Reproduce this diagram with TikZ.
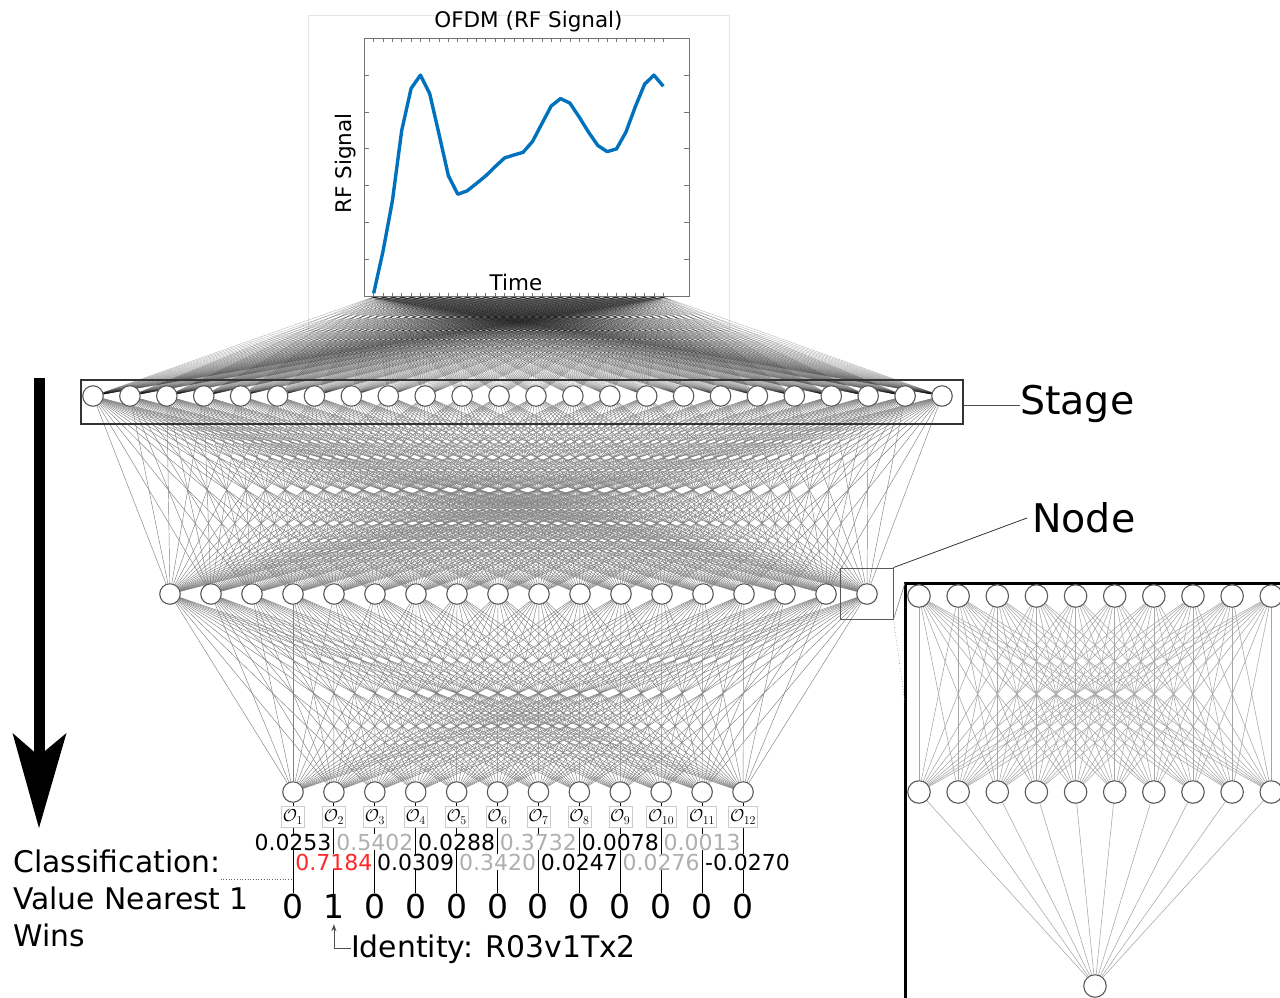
\documentclass[tikz,border=0pt]{standalone}
\usepackage{fontspec}
\setmainfont{DejaVu Sans}
\usetikzlibrary{backgrounds,arrows.meta}
\definecolor{plotblue}{RGB}{0,114,189}
\definecolor{valgray}{RGB}{175,175,175}
\definecolor{valred}{RGB}{255,40,40}
\begin{document}
\begin{tikzpicture}[x=1pt,y=-1pt,
  neuron/.style={circle,draw=black!65,fill=white,line width=1.1pt,minimum size=20.5pt,inner sep=0pt},
  ineuron/.style={neuron,minimum size=22.5pt},
  fanline/.style={black,line width=0.35pt,opacity=0.32},
  wline/.style={black!50,line width=0.45pt},
  iline/.style={black!35,line width=0.55pt},
  vline/.style={black,line width=0.9pt},
  olab/.style={draw=black!20,fill=white,inner sep=1.5pt,minimum width=20pt,minimum height=21pt,font=\fontsize{16.5}{16.5}\selectfont},
  valtxt/.style={font=\fontsize{22}{22}\selectfont,inner sep=0pt,fill=white,anchor=base},
  digit/.style={font=\fontsize{33}{33}\selectfont,inner sep=0pt,anchor=base},
  bigtxt/.style={font=\fontsize{29.8}{29.8}\selectfont,inner sep=0pt,anchor=base west},
  lbltxt/.style={font=\fontsize{39.5}{39.5}\selectfont,inner sep=0pt,anchor=base west},
  axtxt/.style={font=\fontsize{21.5}{21.5}\selectfont,inner sep=0pt,anchor=base},
  axtick/.style={black!55,line width=0.6pt}
]
\useasboundingbox (0,0) rectangle (1280,997);

% ---- signal plot ----
\node[axtxt] (title) at (528.5,27.5) {OFDM (RF Signal)};
\draw[black!55,line width=0.8pt,fill=white] (364,38.3) rectangle (689.3,296.5);
\foreach \k in {0,...,31}{
  \pgfmathsetmacro\xx{373.7+9.34*\k}
  \draw[axtick] (\xx,296.5) -- (\xx,292.5) (\xx,38.3) -- (\xx,42.3);
  \coordinate (p\k) at (\xx,297);
}
\foreach \yy in {75.1,111.9,148.7,185.5,222.3,259.1}
  \draw[axtick] (364,\yy) -- (369,\yy) (689.3,\yy) -- (684.3,\yy);
\draw[plotblue,line width=3.4pt,line join=round] plot coordinates {
 (373.7,293.2) (383.0,251.3) (392.4,200.9) (401.7,130.5) (411.1,88.5)
 (420.4,75.1) (429.7,93.6) (439.1,134.5) (448.4,175.8) (457.8,194.2)
 (467.1,190.9) (476.4,183.5) (485.8,175.8) (495.1,166.7) (504.5,158.0)
 (513.8,155.0) (523.1,152.3) (532.5,141.5) (541.8,123.8) (551.2,106.0)
 (560.5,98.6) (569.8,103.0) (579.2,117.0) (588.5,132.1) (597.9,145.6)
 (607.2,151.6) (616.5,148.9) (625.9,132.1) (635.2,107.0) (644.6,84.2)
 (653.9,75.1) (663.3,86.2)};
\node[axtxt,rotate=90] (ylab) at (351.5,163.5) {RF Signal};
\node[axtxt] (xlab) at (516,290.5) {Time};

% ---- network layers ----
\foreach \i in {1,...,24}{
  \pgfmathsetmacro\xx{93+36.913*(\i-1)}
  \node[neuron] (s\i) at (\xx,396) {};
}
\foreach \i in {1,...,18}{
  \pgfmathsetmacro\xx{170+41*(\i-1)}
  \node[neuron] (h\i) at (\xx,594) {};
}
\foreach \i/\v in {1/0,2/1,3/0,4/0,5/0,6/0,7/0,8/0,9/0,10/0,11/0,12/0}{
  \pgfmathsetmacro\xx{293+40.91*(\i-1)}
  \node[neuron] (o\i) at (\xx,792) {};
  \node[olab] (ol\i) at (\xx,817) {$\mathcal{O}_{\i}$};
  \node[digit] (d\i) at (\xx,918) {\v};
}

% ---- output values ----
\foreach \i/\v/\c in {1/0.0253/black,3/0.5402/valgray,5/0.0288/black,
                      7/0.3732/valgray,9/0.0078/black,11/0.0013/valgray}{
  \pgfmathsetmacro\xx{293+40.91*(\i-1)}
  \node[valtxt,text=\c] (v\i) at (\xx,850) {\v};
}
\foreach \i/\v/\c/\dx in {2/0.7184/valred/0,4/0.0309/black/0,6/0.3420/valgray/0,
                          8/0.0247/black/0,10/0.0276/valgray/0,12/-0.0270/black/4.5}{
  \pgfmathsetmacro\xx{293+40.91*(\i-1)+\dx}
  \node[valtxt,text=\c] (v\i) at (\xx,870) {\v};
}

% ---- stage and node labels ----
\node[draw=black!80,line width=1.2pt,minimum width=882pt,minimum height=44pt,inner sep=0pt] (stagebox) at (522,402) {};
\node[lbltxt] (stagelbl) at (1020,414.5) {Stage};
\coordinate (stagetap) at (963,405.5);
\draw[black!70,line width=0.8pt] (stagetap) -- (stagetap -| stagelbl.west);

\node[draw=black!65,line width=0.9pt,minimum width=53pt,minimum height=51pt,inner sep=0pt] (zbox) at (866.5,593.5) {};
\node[lbltxt] (nodelbl) at (1032,532.7) {Node};
\draw[black!80,line width=0.8pt] (zbox.north east) -- ([xshift=-5pt]nodelbl.west);

% ---- enlarged node ----
\coordinate (icorner) at (905,583);
\coordinate (iside) at (905,703);
\draw[black,line width=3pt] (905,1000) -- (icorner) -- (1290,583);
\draw[black!50,line width=0.6pt] (zbox.south east) -- (icorner);
\draw[black!50,line width=0.6pt,dotted] (zbox.south east) -- (iside);
\foreach \i in {1,...,10}{
  \pgfmathsetmacro\xx{919+39.14*(\i-1)}
  \node[ineuron] (a\i) at (\xx,596) {};
  \node[ineuron] (b\i) at (\xx,792) {};
}
\node[ineuron] (c) at (1095,986) {};

% ---- classification text ----
\node[bigtxt] (cls) at (13,872) {Classification:};
\node[bigtxt] (cls2) at (13,909) {Value Nearest 1};
\node[bigtxt] (cls3) at (13,946) {Wins};
\coordinate (clsend) at (293,879);
\draw[black!60,line width=0.7pt,dotted] (cls.east |- clsend) -- (clsend);

\node[bigtxt] (idl) at (351,957) {Identity: R03v1Tx2};
\draw[black!70,line width=0.8pt,-{Stealth[length=7pt,width=5pt]},shorten >=6pt] (idl.west) -| (d2.south);

% ---- direction arrow ----
\fill[black] (33.5,378) rectangle (44.5,760);
\fill[black] (12.5,733) -- (39,828) -- (66.5,733) -- (39,756) -- cycle;

% ---- connections ----
\begin{pgfonlayer}{background}
\draw[black!10,line width=0.8pt] (308.3,15.7) rectangle (729.3,330);
\foreach \k in {0,...,31}
  \foreach \i in {1,...,24}
    \draw[fanline] (p\k) -- (s\i);
\foreach \i in {1,...,24}
  \foreach \j in {1,...,18}
    \draw[wline] (s\i) -- (h\j);
\foreach \i in {1,...,18}
  \foreach \j in {1,...,12}
    \draw[wline] (h\i) -- (o\j);
\foreach \i in {1,...,10}{
  \foreach \j in {1,...,10}
    \draw[iline] (a\i) -- (b\j);
  \draw[iline] (b\i) -- (c);
}
\foreach \i in {1,...,12}
  \draw[vline] (o\i) -- (d\i.north);
\end{pgfonlayer}
\end{tikzpicture}
\end{document}
